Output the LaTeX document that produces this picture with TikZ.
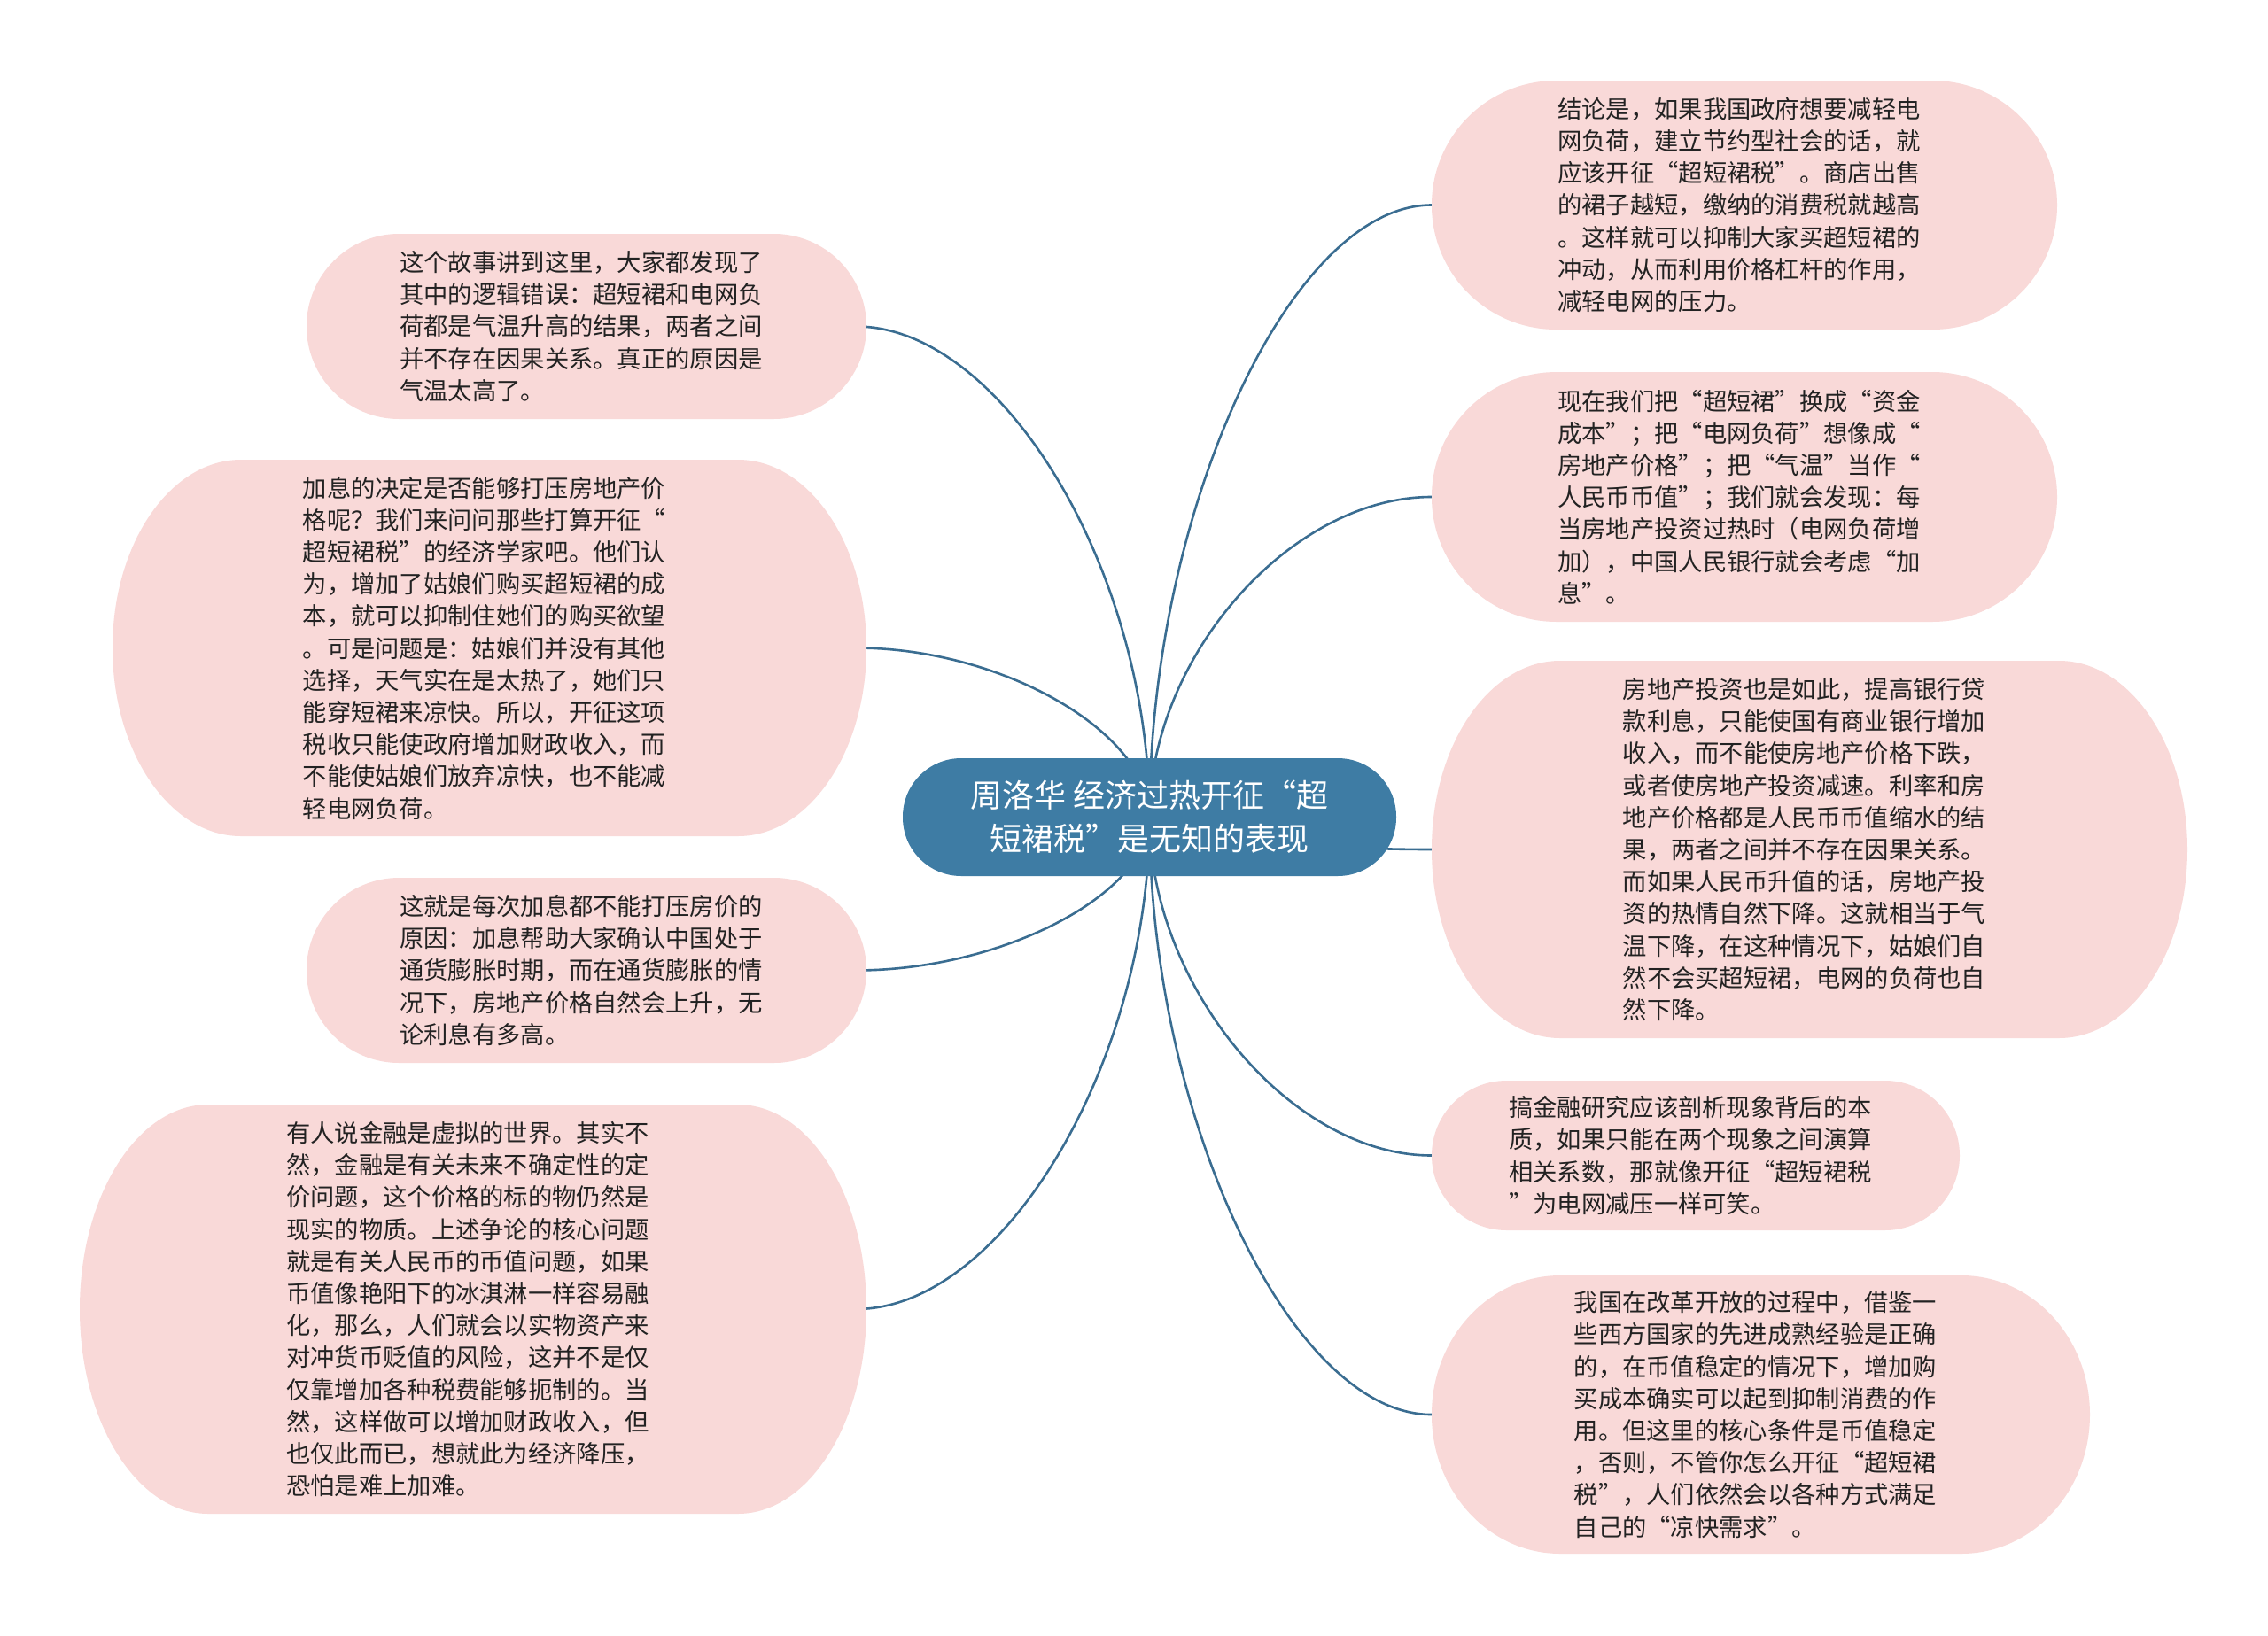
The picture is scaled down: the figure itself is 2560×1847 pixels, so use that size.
\documentclass[tikz,border=0pt]{standalone}
\usepackage{fontspec}
\setmainfont{Noto Sans CJK SC}
\usetikzlibrary{calc}
\pgfdeclarelayer{bg}
\pgfdeclarelayer{paper}
\pgfsetlayers{paper,bg,main}
\definecolor{bubfill}{RGB}{249,217,216}
\definecolor{hubfill}{RGB}{62,124,164}
\definecolor{linecol}{RGB}{58,109,145}
\definecolor{txtcol}{RGB}{34,34,34}
\tikzset{
  bubtext/.style={align=left, text=txtcol, font=\fontsize{27.3pt}{36.2pt}\selectfont, inner sep=0pt, shape=rectangle},
  hubnode/.style={fill=hubfill, text=white, align=center, rounded corners=66pt, minimum width=557pt, minimum height=133pt, inner sep=0pt, font=\fontsize{36pt}{49pt}\selectfont},
  connline/.style={draw=linecol, line width=2.6pt},
}
% name, x1, y1, x2, y2, text
\newcommand\mybubble[6]{%
  \pgfmathsetmacro\by{(#5-#3)/2}%
  \pgfmathsetmacro\bx{min(145,\by)}%
  \pgfmathsetmacro\kx{0.5523*\bx}%
  \pgfmathsetmacro\ky{0.5523*\by}%
  \pgfmathsetmacro\bw{#4-#2-12}%
  \pgfmathsetmacro\bh{#5-#3}%
  \fill[bubfill] (#2+\bx,#3) -- (#4-\bx,#3)
    .. controls (#4-\bx+\kx,#3) and (#4,#3+\by-\ky) .. (#4,#3+\by)
    .. controls (#4,#3+\by+\ky) and (#4-\bx+\kx,#5) .. (#4-\bx,#5)
    -- (#2+\bx,#5)
    .. controls (#2+\bx-\kx,#5) and (#2,#3+\by+\ky) .. (#2,#3+\by)
    .. controls (#2,#3+\by-\ky) and (#2+\bx-\kx,#3) .. (#2+\bx,#3) -- cycle;
  \node[bubtext, minimum width=\bw pt, minimum height=\bh pt] (#1) at ({(#2+#4)/2-6},{(#3+#5)/2}) {#6};
}
\newcommand\myconn[2]{%
  \draw[connline] (#1.center) .. controls ($(#1.center)!0.5!(#1.center|-#2)$) and ($(#1.center|-#2)!0.5!(#2)$) .. (#2);
}
\begin{document}
\begin{tikzpicture}[x=1pt,y=-1pt]
\useasboundingbox (0,0) rectangle (2560,1847);
\begin{pgfonlayer}{paper}
\fill[white] (0,0) rectangle (2560,1847);
\end{pgfonlayer}

\node[hubnode] (hub) at (1297.5,922.5) {周洛华 经济过热开征“超\\短裙税”是无知的表现};

\mybubble{L1}{346}{264}{978}{473}{这个故事讲到这里，大家都发现了\\其中的逻辑错误：超短裙和电网负\\荷都是气温升高的结果，两者之间\\并不存在因果关系。真正的原因是\\气温太高了。}

\mybubble{L2}{127}{519}{978}{944}{加息的决定是否能够打压房地产价\\格呢？我们来问问那些打算开征“\\超短裙税”的经济学家吧。他们认\\为，增加了姑娘们购买超短裙的成\\本，就可以抑制住她们的购买欲望\\。可是问题是：姑娘们并没有其他\\选择，天气实在是太热了，她们只\\能穿短裙来凉快。所以，开征这项\\税收只能使政府增加财政收入，而\\不能使姑娘们放弃凉快，也不能减\\轻电网负荷。}

\mybubble{L3}{346}{991}{978}{1200}{这就是每次加息都不能打压房价的\\原因：加息帮助大家确认中国处于\\通货膨胀时期，而在通货膨胀的情\\况下，房地产价格自然会上升，无\\论利息有多高。}

\mybubble{L4}{90}{1247}{978}{1709}{有人说金融是虚拟的世界。其实不\\然，金融是有关未来不确定性的定\\价问题，这个价格的标的物仍然是\\现实的物质。上述争论的核心问题\\就是有关人民币的币值问题，如果\\币值像艳阳下的冰淇淋一样容易融\\化，那么，人们就会以实物资产来\\对冲货币贬值的风险，这并不是仅\\仅靠增加各种税费能够扼制的。当\\然，这样做可以增加财政收入，但\\也仅此而已，想就此为经济降压，\\恐怕是难上加难。}

\mybubble{R1}{1616}{91}{2322}{372}{结论是，如果我国政府想要减轻电\\网负荷，建立节约型社会的话，就\\应该开征“超短裙税”。商店出售\\的裙子越短，缴纳的消费税就越高\\。这样就可以抑制大家买超短裙的\\冲动，从而利用价格杠杆的作用，\\减轻电网的压力。}

\mybubble{R2}{1616}{420}{2322}{702}{现在我们把“超短裙”换成“资金\\成本”；把“电网负荷”想像成“\\房地产价格”；把“气温”当作“\\人民币币值”；我们就会发现：每\\当房地产投资过热时（电网负荷增\\加），中国人民银行就会考虑“加\\息”。}

\mybubble{R3}{1616}{746}{2469}{1172}{房地产投资也是如此，提高银行贷\\款利息，只能使国有商业银行增加\\收入，而不能使房地产价格下跌，\\或者使房地产投资减速。利率和房\\地产价格都是人民币币值缩水的结\\果，两者之间并不存在因果关系。\\而如果人民币升值的话，房地产投\\资的热情自然下降。这就相当于气\\温下降，在这种情况下，姑娘们自\\然不会买超短裙，电网的负荷也自\\然下降。}

\mybubble{R4}{1616}{1220}{2212}{1389}{搞金融研究应该剖析现象背后的本\\质，如果只能在两个现象之间演算\\相关系数，那就像开征“超短裙税\\”为电网减压一样可笑。}

\mybubble{R5}{1616}{1440}{2359}{1754}{我国在改革开放的过程中，借鉴一\\些西方国家的先进成熟经验是正确\\的，在币值稳定的情况下，增加购\\买成本确实可以起到抑制消费的作\\用。但这里的核心条件是币值稳定\\，否则，不管你怎么开征“超短裙\\税”，人们依然会以各种方式满足\\自己的“凉快需求”。}

\begin{pgfonlayer}{bg}
\myconn{hub}{L1.east}
\myconn{hub}{L2.east}
\myconn{hub}{L3.east}
\myconn{hub}{L4.east}
\myconn{hub}{R1.west}
\myconn{hub}{R2.west}
\myconn{hub}{R3.west}
\myconn{hub}{R4.west}
\myconn{hub}{R5.west}
\end{pgfonlayer}
\end{tikzpicture}
\end{document}
